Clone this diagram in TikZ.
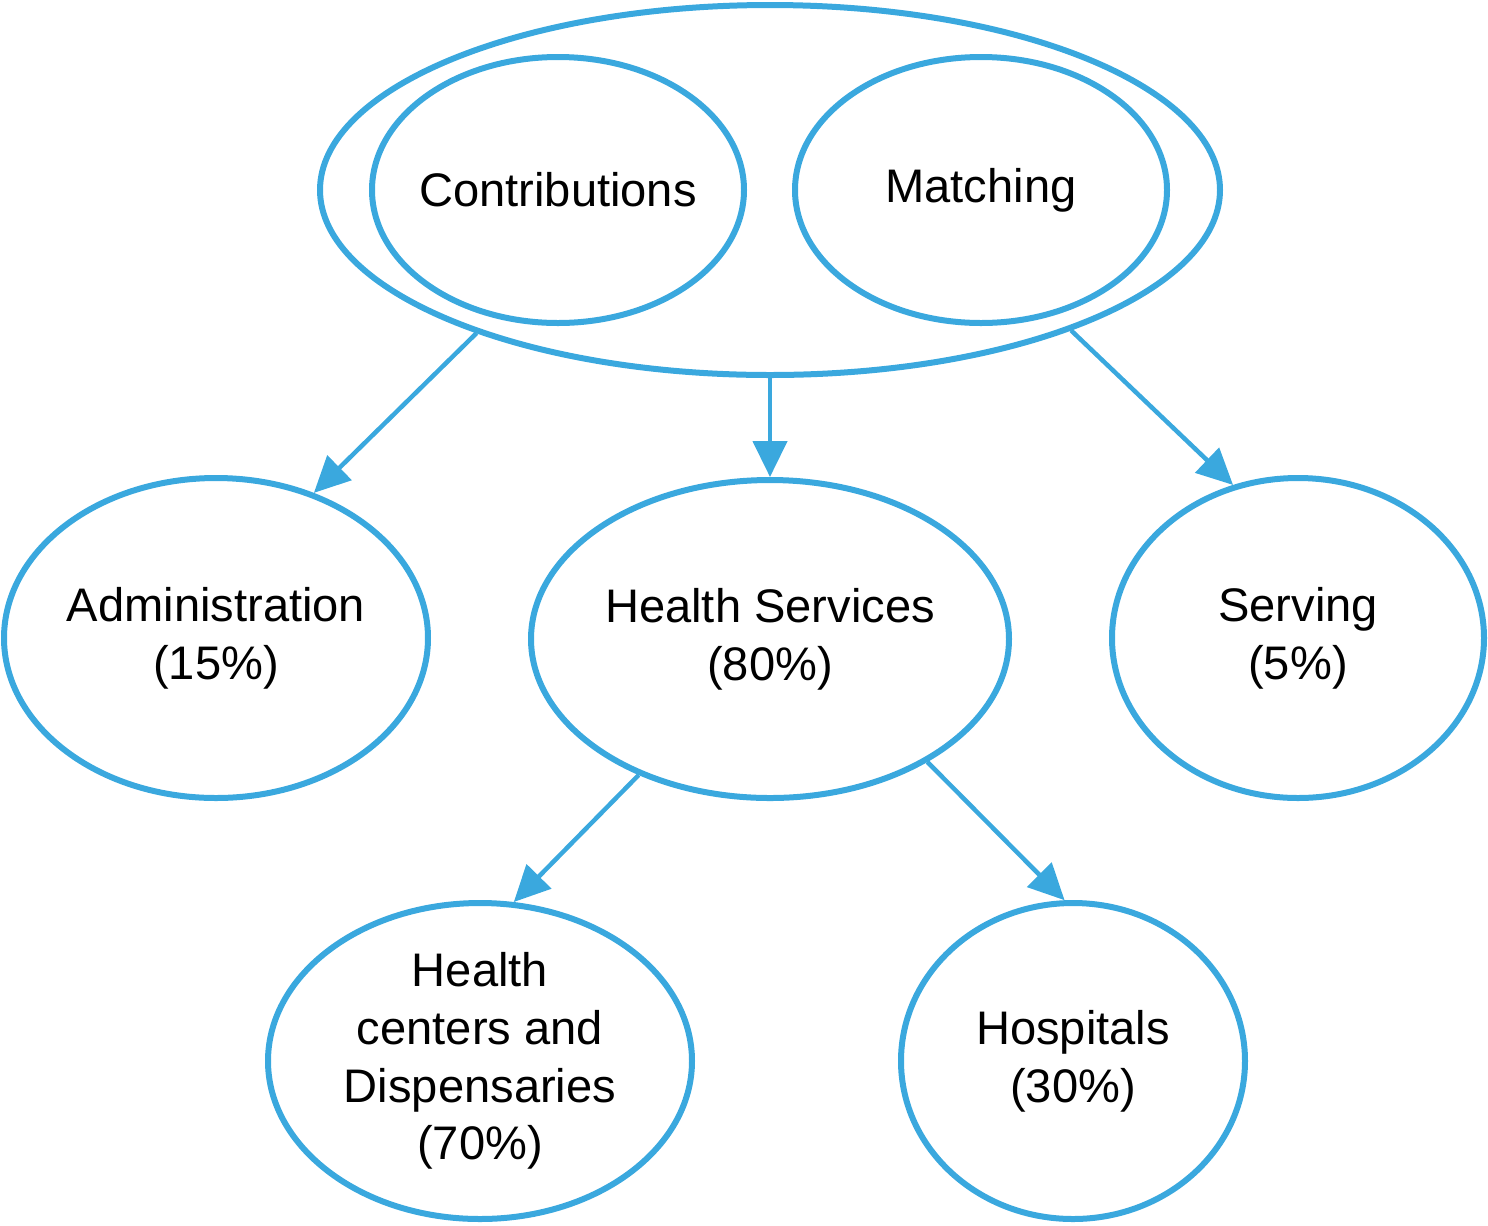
\documentclass[tikz,border=0pt]{standalone}
\usepackage{fontspec}
\setmainfont{Liberation Sans}
\usetikzlibrary{shapes.geometric,arrows.meta}
\definecolor{ebl}{HTML}{3AA8DE}
\begin{document}
\begin{tikzpicture}[x=0.1mm,y=-0.1mm,
  ell/.style={ellipse,draw=ebl,line width=0.6mm,inner xsep=-4mm,inner ysep=0pt,align=center,
    font=\fontsize{13.4}{16.4}\selectfont,text=black},
  arr/.style={draw=ebl,line width=0.45mm,-{Triangle[length=3.6mm,width=3.4mm]}}]
\useasboundingbox (0,0) rectangle (1488,1225);
\node[ell,minimum width=90mm,minimum height=37mm] (outer) at (770,190) {};
\node[ell,minimum width=37.2mm,minimum height=26.6mm] (contrib) at (558,190) {Contributions};
\node[ell,minimum width=37.2mm,minimum height=26.6mm] (match) at (981,190) {Matching};
\node[ell,minimum width=42.4mm,minimum height=32mm] (admin) at (216,638) {Administration\\(15\%)};
\node[ell,minimum width=47.8mm,minimum height=31.8mm] (hs) at (770,639) {Health Services\\(80\%)};
\node[ell,minimum width=37.2mm,minimum height=32mm] (serv) at (1298,638) {Serving\\(5\%)};
\node[ell,minimum width=42.4mm,minimum height=31.6mm] (hc) at (480,1061) {Health\\centers and\\Dispensaries\\(70\%)};
\node[ell,minimum width=34.4mm,minimum height=31.6mm] (hosp) at (1073,1061) {Hospitals\\(30\%)};
\draw[arr] (outer.206) -- (admin.56);
\draw[arr] (outer.south) -- (hs.north);
\draw[arr] (outer.335) -- (serv.113);
\draw[arr] (hs.226) -- (hc.78);
\draw[arr] (hs.322) -- (hosp.93);
\end{tikzpicture}
\end{document}
